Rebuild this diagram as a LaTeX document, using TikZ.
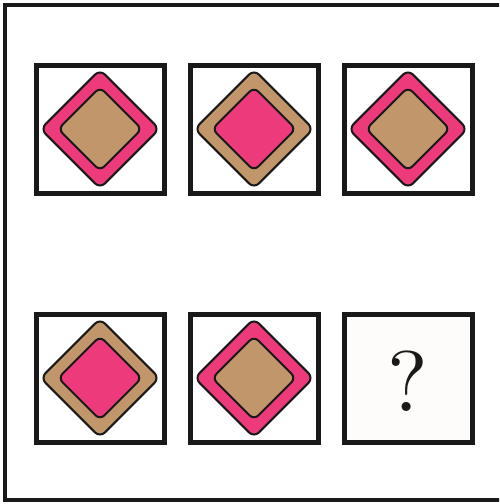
\documentclass[tikz,border=0pt]{standalone}
\font\qfont="[lmroman10-regular.otf]" at 86pt
\begin{document}
\begin{tikzpicture}[x=1pt,y=-1pt,
  cell/.style={draw=black!90, line width=5pt, minimum size=128pt, inner sep=0pt, fill=white},
  outerd/.style={draw=black!90, line width=2pt, rounded corners=7pt, minimum size=84pt, inner sep=0pt, rotate=45},
  innerd/.style={draw=black!90, line width=2pt, rounded corners=6pt, minimum size=59pt, inner sep=0pt, rotate=45},
  pinkf/.style={fill=pinkc}, brownf/.style={fill=brownc}]
\definecolor{pinkc}{HTML}{EC3A7B}
\definecolor{brownc}{HTML}{C0966A}
\useasboundingbox (0,0) rectangle (499,504);
\clip (0,0) rectangle (499,504);
\draw[black!90, line width=4.5pt] (5,5) rectangle (530,500);
\node[cell] (c11) at (100,129) {};
\node[cell] (c12) at (254,129) {};
\node[cell] (c13) at (408,129) {};
\node[cell] (c21) at (100,378) {};
\node[cell] (c22) at (254,378) {};
\node[cell, fill={rgb,255:red,253;green,252;blue,250}] (c23) at (408,378) {};
\node[outerd, pinkf] (o11) at (c11) {};
\node[innerd, brownf] (i11) at (c11) {};
\node[outerd, brownf] (o12) at (c12) {};
\node[innerd, pinkf] (i12) at (c12) {};
\node[outerd, pinkf] (o13) at (c13) {};
\node[innerd, brownf] (i13) at (c13) {};
\node[outerd, brownf] (o21) at (c21) {};
\node[innerd, pinkf] (i21) at (c21) {};
\node[outerd, pinkf] (o22) at (c22) {};
\node[innerd, brownf] (i22) at (c22) {};
\node[font=\qfont, text=black!90, inner sep=0pt] (q) at (408,381) {?};
\end{tikzpicture}
\end{document}
